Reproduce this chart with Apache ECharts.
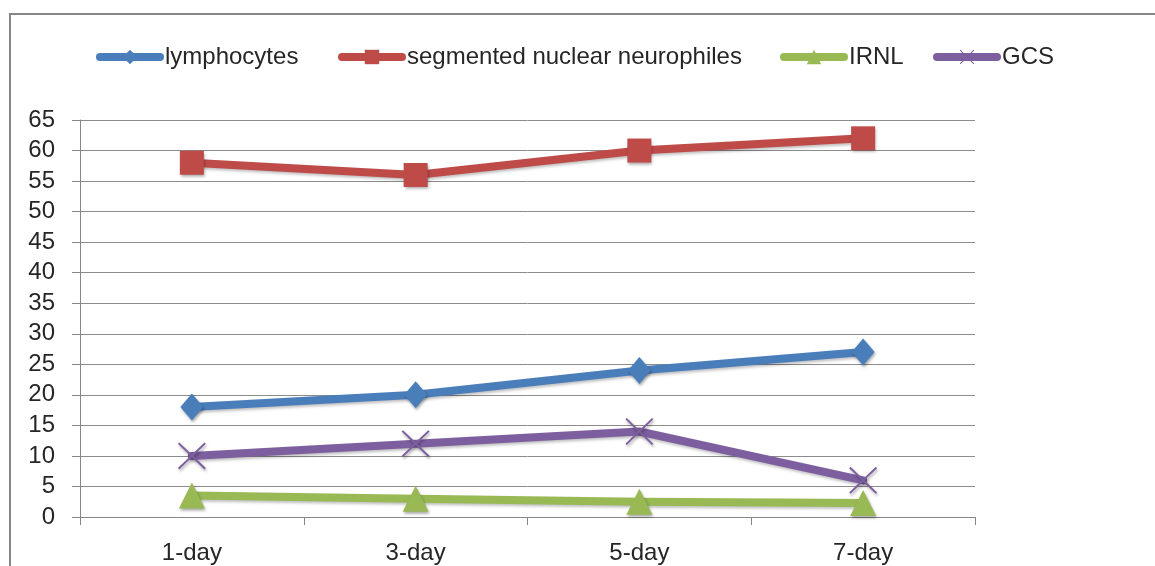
<!DOCTYPE html>
<html><head><meta charset="utf-8">
<script src="https://cdn.jsdelivr.net/npm/echarts@6/dist/echarts.min.js"></script>
<style>html,body{margin:0;padding:0;background:#fff}#c{width:1155px;height:566px}</style>
</head><body><div id="c"></div>
<script>
const categories = ['1-day', '3-day', '5-day', '7-day'];
const lymphocytes = [18, 20, 24, 27];
const segmented = [58, 56, 60, 62];
const irnl = [3.5, 3, 2.5, 2.3];
const gcs = [10, 12, 14, 6];
const seriesNames = ['lymphocytes', 'segmented nuclear neurophiles', 'IRNL', 'GCS'];
const yTicks = { min: 0, max: 65, interval: 5 };

const FONT = 'Liberation Sans, Arial, sans-serif';
const TXT = '#262626';
const GRAY = '#868686';
const crossPath = 'path://M0,1.2 L1.2,0 L12,10.8 L22.8,0 L24,1.2 L13.2,12 L24,22.8 L22.8,24 L12,13.2 L1.2,24 L0,22.8 L10.8,12 Z';
const colors = ['#4A7EBB', '#BE4B48', '#98B954', '#7D5FA0'];
const symbols = ['diamond', 'rect', 'triangle', crossPath];
const sizes = [[23, 27], [24, 24], [26, 26], [28, 27]];
const legendLefts = [96, 338, 780, 933];
const dataSets = [lymphocytes, segmented, irnl, gcs];

const chart = echarts.init(document.getElementById('c'), null, { renderer: 'canvas' });
const option = {
  animation: false,
  backgroundColor: '#fff',
  graphic: [{
    type: 'rect', shape: { x: 10, y: 14, width: 1160, height: 570 },
    style: { fill: 'none', stroke: GRAY, lineWidth: 2 }, silent: true
  }],
  legend: seriesNames.map((n, i) => ({
    data: [n], left: legendLefts[i], top: 45, padding: 0,
    itemWidth: 60, itemHeight: 18, itemGap: 0,
    lineStyle: { width: 8, cap: 'round' },
    itemStyle: { shadowBlur: 0, shadowOffsetX: 0, shadowOffsetY: 0 },
    textStyle: { fontFamily: FONT, fontSize: 24, color: TXT }
  })),
  grid: { left: 80, right: 180, top: 120, bottom: 49, containLabel: false },
  xAxis: {
    type: 'category', data: categories, boundaryGap: true,
    axisLine: { show: true, lineStyle: { color: GRAY, width: 1 } },
    axisTick: { show: true, length: 8, alignWithLabel: false, lineStyle: { color: GRAY } },
    axisLabel: { fontFamily: FONT, fontSize: 24, color: TXT, margin: 24 },
    splitLine: { show: false }
  },
  yAxis: {
    type: 'value', min: yTicks.min, max: yTicks.max, interval: yTicks.interval,
    axisLine: { show: true, lineStyle: { color: GRAY, width: 1 } },
    axisTick: { show: true, length: 8, lineStyle: { color: GRAY } },
    axisLabel: { fontFamily: FONT, fontSize: 24, color: TXT, margin: 25 },
    splitLine: { show: true, lineStyle: { color: '#8c8c8c', width: 1 } }
  },
  series: seriesNames.map((n, i) => ({
    name: n, type: 'line', data: dataSets[i],
    symbol: symbols[i], symbolSize: sizes[i], showSymbol: true,
    lineStyle: { color: colors[i], width: 8, cap: 'round', join: 'round',
      shadowColor: 'rgba(0,0,0,0.25)', shadowBlur: 3, shadowOffsetX: 1, shadowOffsetY: 2 },
    itemStyle: { color: colors[i], borderWidth: 0, opacity: 1,
      shadowColor: 'rgba(0,0,0,0.35)', shadowBlur: 3, shadowOffsetX: 1, shadowOffsetY: 2 },
    emphasis: { disabled: true }
  }))
};
chart.setOption(option);
</script>
</body></html>
